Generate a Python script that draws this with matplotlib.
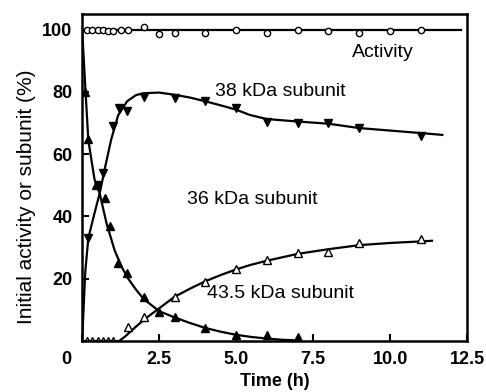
import matplotlib
matplotlib.use('Agg')
import matplotlib.pyplot as plt
import matplotlib.transforms as mtransforms

plt.rcParams['font.family'] = ['Liberation Sans', 'DejaVu Sans']

# measured points (time in h, % of initial)
t_act = [0.17, 0.33, 0.5, 0.67, 0.83, 1.0, 1.25, 1.5, 2.0, 2.5, 3.0, 4.0, 5.0, 6.0, 7.0, 8.0, 9.0, 10.0, 11.0]
activity = [100, 100, 100, 100, 99.5, 99.5, 100, 100, 101, 98.5, 99, 99, 100, 99, 100, 99.5, 99, 99.5, 100]

t_38 = [0.2, 0.5, 0.67, 1.0, 1.2, 1.45, 2.0, 3.0, 4.0, 5.0, 6.0, 7.0, 8.0, 9.0, 11.0]
sub_38 = [33, 50, 54, 69, 75, 74, 78.5, 78, 77, 75, 70.4, 70, 70, 68.5, 66]

t_435 = [0.1, 0.2, 0.45, 0.75, 0.9, 1.17, 1.45, 2.0, 2.5, 3.0, 4.0, 5.0, 6.0, 7.0]
sub_435 = [80, 65, 50, 46, 37, 25, 22, 14, 9.3, 7.7, 4.2, 2, 2, 1.2]

t_36 = [0.17, 0.33, 0.5, 0.67, 0.83, 1.0, 1.5, 2.0, 3.0, 4.0, 5.0, 6.0, 7.0, 8.0, 9.0, 11.0]
sub_36 = [0, 0, 0, 0, 0, 0, 4.5, 7.6, 14, 19, 23, 26, 28.3, 28.6, 31.5, 32.8]

# fitted curves as drawn in the figure
c_act_t = [0, 12.3]
c_act = [100, 100]

c38_t = [0, 0.1, 0.2, 0.4, 0.57, 0.75, 0.94, 1.17, 1.46, 1.75, 2.0, 2.5, 3.0, 3.5, 4.0, 4.5, 5.0,
         5.45, 6.0, 7.0, 8.0, 9.0, 10.0, 11.0, 11.7]
c38 = [0, 22, 33, 41, 47.4, 56, 64.6, 72.5, 77, 79, 79.6, 79.8, 79.1, 78.2, 77, 75.7, 74.3,
       72.6, 71.3, 70.5, 69.8, 68.4, 67.6, 66.8, 66.2]

c435_t = [0, 0.1, 0.2, 0.4, 0.57, 0.8, 1.06, 1.3, 1.5, 1.75, 2.0, 2.5, 3.0, 3.5, 4.0, 4.5, 5.0,
          5.5, 6.0, 6.5, 7.0]
c435 = [100, 82, 64.6, 52, 47.4, 37.5, 29, 23.5, 20, 16.5, 13.5, 9.6, 7.6, 5.8, 4.2, 3, 2,
        1.3, 0.8, 0.4, 0.2]

c36_t = [0, 1.2, 1.4, 1.7, 2.0, 2.5, 3.0, 3.5, 4.0, 4.5, 5.0, 5.45, 6.0, 7.0, 8.0, 9.0, 10.0,
         11.0, 11.36]
c36 = [0, 0, 1.5, 4.2, 6.8, 10.5, 14.2, 16.8, 19.2, 21.2, 23, 24.4, 25.8, 28.0, 29.5, 30.8, 31.5,
       32.0, 32.2]

fig = plt.figure(figsize=(4.86, 3.92), dpi=100)
ax = fig.add_axes([0.169, 0.130, 0.792, 0.834])

lw = 1.6
ax.plot(c_act_t, c_act, 'k-', lw=lw)
ax.plot(c38_t, c38, 'k-', lw=lw)
ax.plot(c435_t, c435, 'k-', lw=lw)
ax.plot(c36_t, c36, 'k-', lw=lw)

ax.plot(t_act, activity, 'o', ms=4.5, mfc='white', mec='k', mew=1.0, ls='none')
ax.plot(t_38, sub_38, 'v', ms=6, color='k', ls='none')
ax.plot(t_435, sub_435, '^', ms=6, color='k', ls='none')
ax.plot(t_36, sub_36, '^', ms=5.5, mfc='white', mec='k', mew=1.0, ls='none')

tfont = dict(fontsize=14)
ax.text(9.75, 92.6, 'Activity', ha='center', va='center', **tfont)
ax.text(4.3, 80, '38 kDa subunit', ha='left', va='center', **tfont)
ax.text(3.4, 45.3, '36 kDa subunit', ha='left', va='center', **tfont)
ax.text(4.05, 15.4, '43.5 kDa subunit', ha='left', va='center', **tfont)

ax.set_xlim(0, 12.5)
ax.set_ylim(0, 105)
ax.set_xticks([0, 2.5, 5.0, 7.5, 10.0, 12.5])
ax.set_xticklabels(['0', '2.5', '5.0', '7.5', '10.0', '12.5'])
ax.set_yticks([20, 40, 60, 80, 100])
ax.tick_params(direction='in', length=5, width=1.5, labelsize=13, pad=7)
for lab in ax.get_xticklabels() + ax.get_yticklabels():
    lab.set_fontweight('bold')
# origin label sits left of the axis corner
x0 = ax.get_xticklabels()[0]
x0.set_transform(x0.get_transform() + mtransforms.ScaledTranslation(-0.16, 0, fig.dpi_scale_trans))
for s in ax.spines.values():
    s.set_linewidth(1.8)

ax.set_xlabel('Time (h)', fontsize=13, fontweight='semibold', labelpad=4)
ax.set_ylabel('Initial activity or subunit (%)', fontsize=15)
ax.yaxis.set_label_coords(-0.12, 0.44)

fig.savefig('out.png', dpi=100)
